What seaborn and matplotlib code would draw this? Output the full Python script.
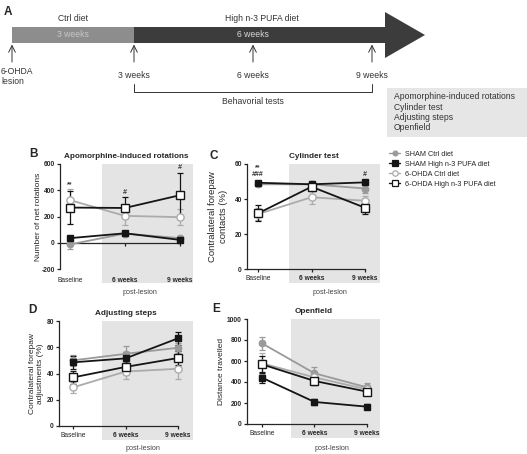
import numpy as np
import pandas as pd
import matplotlib
matplotlib.use("Agg")
import matplotlib.pyplot as plt
from matplotlib.patches import Rectangle, Polygon
from matplotlib.lines import Line2D
import seaborn as sns

# ---------------- data ----------------
timepoints = ["Baseline", "6 weeks", "9 weeks"]
groups = ["SHAM Ctrl diet", "SHAM High n-3 PUFA diet", "6-OHDA Ctrl diet", "6-OHDA High n-3 PUFA diet"]

rot_mean = {"SHAM Ctrl diet": [-13, 70, 35], "SHAM High n-3 PUFA diet": [35, 72, 22],
            "6-OHDA Ctrl diet": [325, 205, 195], "6-OHDA High n-3 PUFA diet": [268, 265, 362]}
rot_sem = {"SHAM Ctrl diet": [37, 15, 15], "SHAM High n-3 PUFA diet": [15, 15, 10],
           "6-OHDA Ctrl diet": [85, 70, 62], "6-OHDA High n-3 PUFA diet": [125, 80, 172]}

cyl_mean = {"SHAM Ctrl diet": [48.4, 48.4, 46.0], "SHAM High n-3 PUFA diet": [49.3, 48.4, 49.5],
            "6-OHDA Ctrl diet": [31.4, 41.0, 39.0], "6-OHDA High n-3 PUFA diet": [31.8, 47.0, 35.0]}
cyl_sem = {"SHAM Ctrl diet": [1.0, 1.5, 2.5], "SHAM High n-3 PUFA diet": [1.0, 1.0, 1.5],
           "6-OHDA Ctrl diet": [3.5, 4.0, 3.0], "6-OHDA High n-3 PUFA diet": [4.5, 2.5, 3.5]}

adj_mean = {"SHAM Ctrl diet": [50.0, 55.0, 59.6], "SHAM High n-3 PUFA diet": [48.5, 51.5, 66.8],
            "6-OHDA Ctrl diet": [29.4, 41.5, 43.6], "6-OHDA High n-3 PUFA diet": [37.0, 45.0, 51.8]}
adj_sem = {"SHAM Ctrl diet": [4.0, 6.0, 4.0], "SHAM High n-3 PUFA diet": [5.0, 5.0, 5.0],
           "6-OHDA Ctrl diet": [4.5, 6.0, 8.0], "6-OHDA High n-3 PUFA diet": [5.0, 5.0, 5.0]}

opf_mean = {"SHAM Ctrl diet": [768, 483, 349], "SHAM High n-3 PUFA diet": [441, 210, 165],
            "6-OHDA Ctrl diet": [578, 444, 330], "6-OHDA High n-3 PUFA diet": [568, 410, 308]}
opf_sem = {"SHAM Ctrl diet": [65, 60, 40], "SHAM High n-3 PUFA diet": [55, 25, 25],
           "6-OHDA Ctrl diet": [100, 50, 35], "6-OHDA High n-3 PUFA diet": [80, 40, 30]}

timeline_labels = ["3 weeks", "6 weeks", "9 weeks"]
tests = ["Apomorphine-induced rotations", "Cylinder test", "Adjusting steps", "Openfield"]

# ---------------- style ----------------
sns.set_theme(style="ticks")
plt.rcParams["font.family"] = ["Liberation Sans", "DejaVu Sans"]
plt.rcParams["axes.linewidth"] = 0.9

W, H = 527, 454
fig = plt.figure(figsize=(W / 100, H / 100), dpi=100)

BLACK = "#151515"
GRAY = "#9a9a9a"
LGRAY = "#ababab"
SHADE = "#e4e4e4"
style = {
    "SHAM Ctrl diet": dict(color=GRAY, marker="o", mfc=GRAY, ms=4.6),
    "SHAM High n-3 PUFA diet": dict(color=BLACK, marker="s", mfc=BLACK, ms=5.0),
    "6-OHDA Ctrl diet": dict(color=LGRAY, marker="o", mfc="white", ms=5.2),
    "6-OHDA High n-3 PUFA diet": dict(color=BLACK, marker="s", mfc="white", ms=6.0),
}
FS_A = 6.2


def px_rect(l, t, r, b):
    return [l / W, 1 - b / H, (r - l) / W, (b - t) / H]


# ---------------- panel A (overlay in pixel coords) ----------------
ax0 = fig.add_axes([0, 0, 1, 1], zorder=-5)
ax0.set_xlim(0, W)
ax0.set_ylim(H, 0)
ax0.axis("off")
ax0.patch.set_visible(False)

ax0.add_patch(Rectangle((12, 27), 122, 16, color="#8d8d8d", lw=0))
ax0.add_patch(Rectangle((134, 27), 252, 16, color="#3c3c3c", lw=0))
ax0.add_patch(Polygon([(385, 12), (425, 35), (385, 58)], closed=True, color="#3c3c3c", lw=0))
ax0.text(73, 18.5, "Ctrl diet", ha="center", va="center", fontsize=FS_A, color="#333")
ax0.text(73, 34.5, "3 weeks", ha="center", va="center", fontsize=FS_A, color="#c8c8c8")
ax0.text(262, 18.5, "High n-3 PUFA diet", ha="center", va="center", fontsize=FS_A, color="#333")
ax0.text(253, 34.5, "6 weeks", ha="center", va="center", fontsize=FS_A, color="#d8d8d8")
for xa in [12, 134, 253, 372]:
    ax0.annotate("", xy=(xa, 44.5), xytext=(xa, 62),
                 arrowprops=dict(arrowstyle="->", lw=0.7, color="#333", shrinkA=0, shrinkB=0))
ax0.text(1, 72, "6-OHDA", ha="left", va="center", fontsize=FS_A, color="#333")
ax0.text(1, 81, "lesion", ha="left", va="center", fontsize=FS_A, color="#333")
for xa, lab in zip([134, 253, 372], timeline_labels):
    ax0.text(xa, 76, lab, ha="center", va="center", fontsize=FS_A, color="#333")
ax0.plot([134, 134, 372, 372], [84, 91.5, 91.5, 84], color="#333", lw=0.7)
ax0.text(253, 101, "Behavorial tests", ha="center", va="center", fontsize=FS_A, color="#333")
ax0.add_patch(Rectangle((387, 88), 140, 49, color="#e6e6e6", lw=0))
for i, t in enumerate(tests):
    ax0.text(394, 96.5 + i * 10.5, t, ha="left", va="center", fontsize=FS_A, color="#333")
for lt, (xp, yp) in zip("ABCDE", [(8, 12), (33, 154), (214, 156), (32, 310), (216, 309)]):
    ax0.text(xp, yp, lt, ha="center", va="center", fontsize=8.5, fontweight="bold")
for (xp, yp) in [(140, 292), (330, 292), (143, 448), (332, 448)]:
    ax0.text(xp, yp, "post-lesion", ha="center", va="center", fontsize=5.2, color="#444")


# ---------------- behavioural panels ----------------
def panel(rect, xlim, ylim, yticks, means, sems, title, ylabel, shade_x, zero_axis=False,
          ylabelpad=3, ylabel_fs=6.0):
    ax = fig.add_axes(rect)
    ax.set_xlim(*xlim)
    ax.set_ylim(*ylim)
    ax.axvspan(shade_x, xlim[1], ymin=-0.135, ymax=1.0, color=SHADE, lw=0, zorder=0, clip_on=False)
    x = np.arange(len(timepoints))
    for g in groups:
        st = style[g]
        ax.errorbar(x, means[g], yerr=sems[g], fmt="none", ecolor=st["color"], elinewidth=0.9,
                    capsize=2.2, capthick=0.9, zorder=2)
        sns.lineplot(x=x, y=means[g], ax=ax, color=st["color"], lw=1.3, marker=st["marker"],
                     markersize=st["ms"], markerfacecolor=st["mfc"], markeredgecolor=st["color"],
                     markeredgewidth=1.0, legend=False, zorder=3)
    sns.despine(ax=ax)
    if zero_axis:
        ax.spines["bottom"].set_position(("data", 0))
    ax.set_xlim(*xlim)
    ax.set_ylim(*ylim)
    ax.set_yticks(yticks)
    ax.set_yticklabels([str(v) for v in yticks], fontsize=4.8, fontweight="bold")
    ax.set_xticks(x)
    ax.set_xticklabels(timepoints, fontsize=4.8)
    for lbl in ax.get_xticklabels()[1:]:
        lbl.set_fontweight("bold")
    ax.spines["bottom"].set_bounds(xlim[0], 2)
    ax.tick_params(axis="both", length=2.5, width=0.9, color="#222")
    ax.tick_params(axis="y", pad=1.2)
    if zero_axis:
        ax.tick_params(axis="x", pad=22)
    else:
        ax.tick_params(axis="x", pad=1.5)
    ax.set_title(title, fontsize=5.9, fontweight="bold", pad=4)
    ax.set_ylabel(ylabel, fontsize=ylabel_fs, labelpad=ylabelpad, linespacing=1.3)
    ax.set_xlabel("")
    ax.set_facecolor("none")
    return ax


axB = panel(px_rect(60, 164, 193, 269), (-0.18, 2.24), (-200, 600), [-200, 0, 200, 400, 600],
            rot_mean, rot_sem, "Apomorphine-induced rotations", "Number of net rotations", 0.58,
            zero_axis=True, ylabelpad=-0.5)
axC = panel(px_rect(247, 164, 380, 269), (-0.206, 2.28), (0, 60), [0, 20, 40, 60],
            cyl_mean, cyl_sem, "Cylinder test", "Contralateral forepaw\ncontacts (%)", 0.58,
            ylabelpad=4.5, ylabel_fs=6.8)
axD = panel(px_rect(59, 321, 193, 426), (-0.267, 2.286), (0, 80), [0, 20, 40, 60, 80],
            adj_mean, adj_sem, "Adjusting steps", "Contralateral forepaw\nadjustments (%)", 0.55,
            ylabelpad=1.5)
axE = panel(px_rect(247, 319, 380, 424), (-0.286, 2.248), (0, 1000), [0, 200, 400, 600, 800, 1000],
            opf_mean, opf_sem, "Openfield", "Distance travelled", 0.55, ylabelpad=1.5)

# significance marks
ann = dict(ha="center", va="center", fontsize=5.0, color="#333", fontweight="bold")
axB.text(0, 445, "**", **ann)
axB.text(1, 385, "#", style="italic", **ann)
axB.text(2, 575, "#", style="italic", **ann)
axC.text(0, 58, "**", **ann)
axC.text(0, 54, "###", style="italic", **ann)
axC.text(2, 54, "#", style="italic", **ann)

# legend
handles = [Line2D([0], [0], color=style[g]["color"], lw=1.0, marker=style[g]["marker"],
                  markersize=style[g]["ms"] * 0.75, markerfacecolor=style[g]["mfc"],
                  markeredgecolor=style[g]["color"], markeredgewidth=0.9) for g in groups]
fig.legend(handles, groups, loc="upper left", bbox_to_anchor=(386 / W, 1 - 148 / H), frameon=False,
           fontsize=5.2, handlelength=1.6, handletextpad=0.6, labelspacing=0.4, borderaxespad=0)

fig.savefig("out.png", dpi=100)
